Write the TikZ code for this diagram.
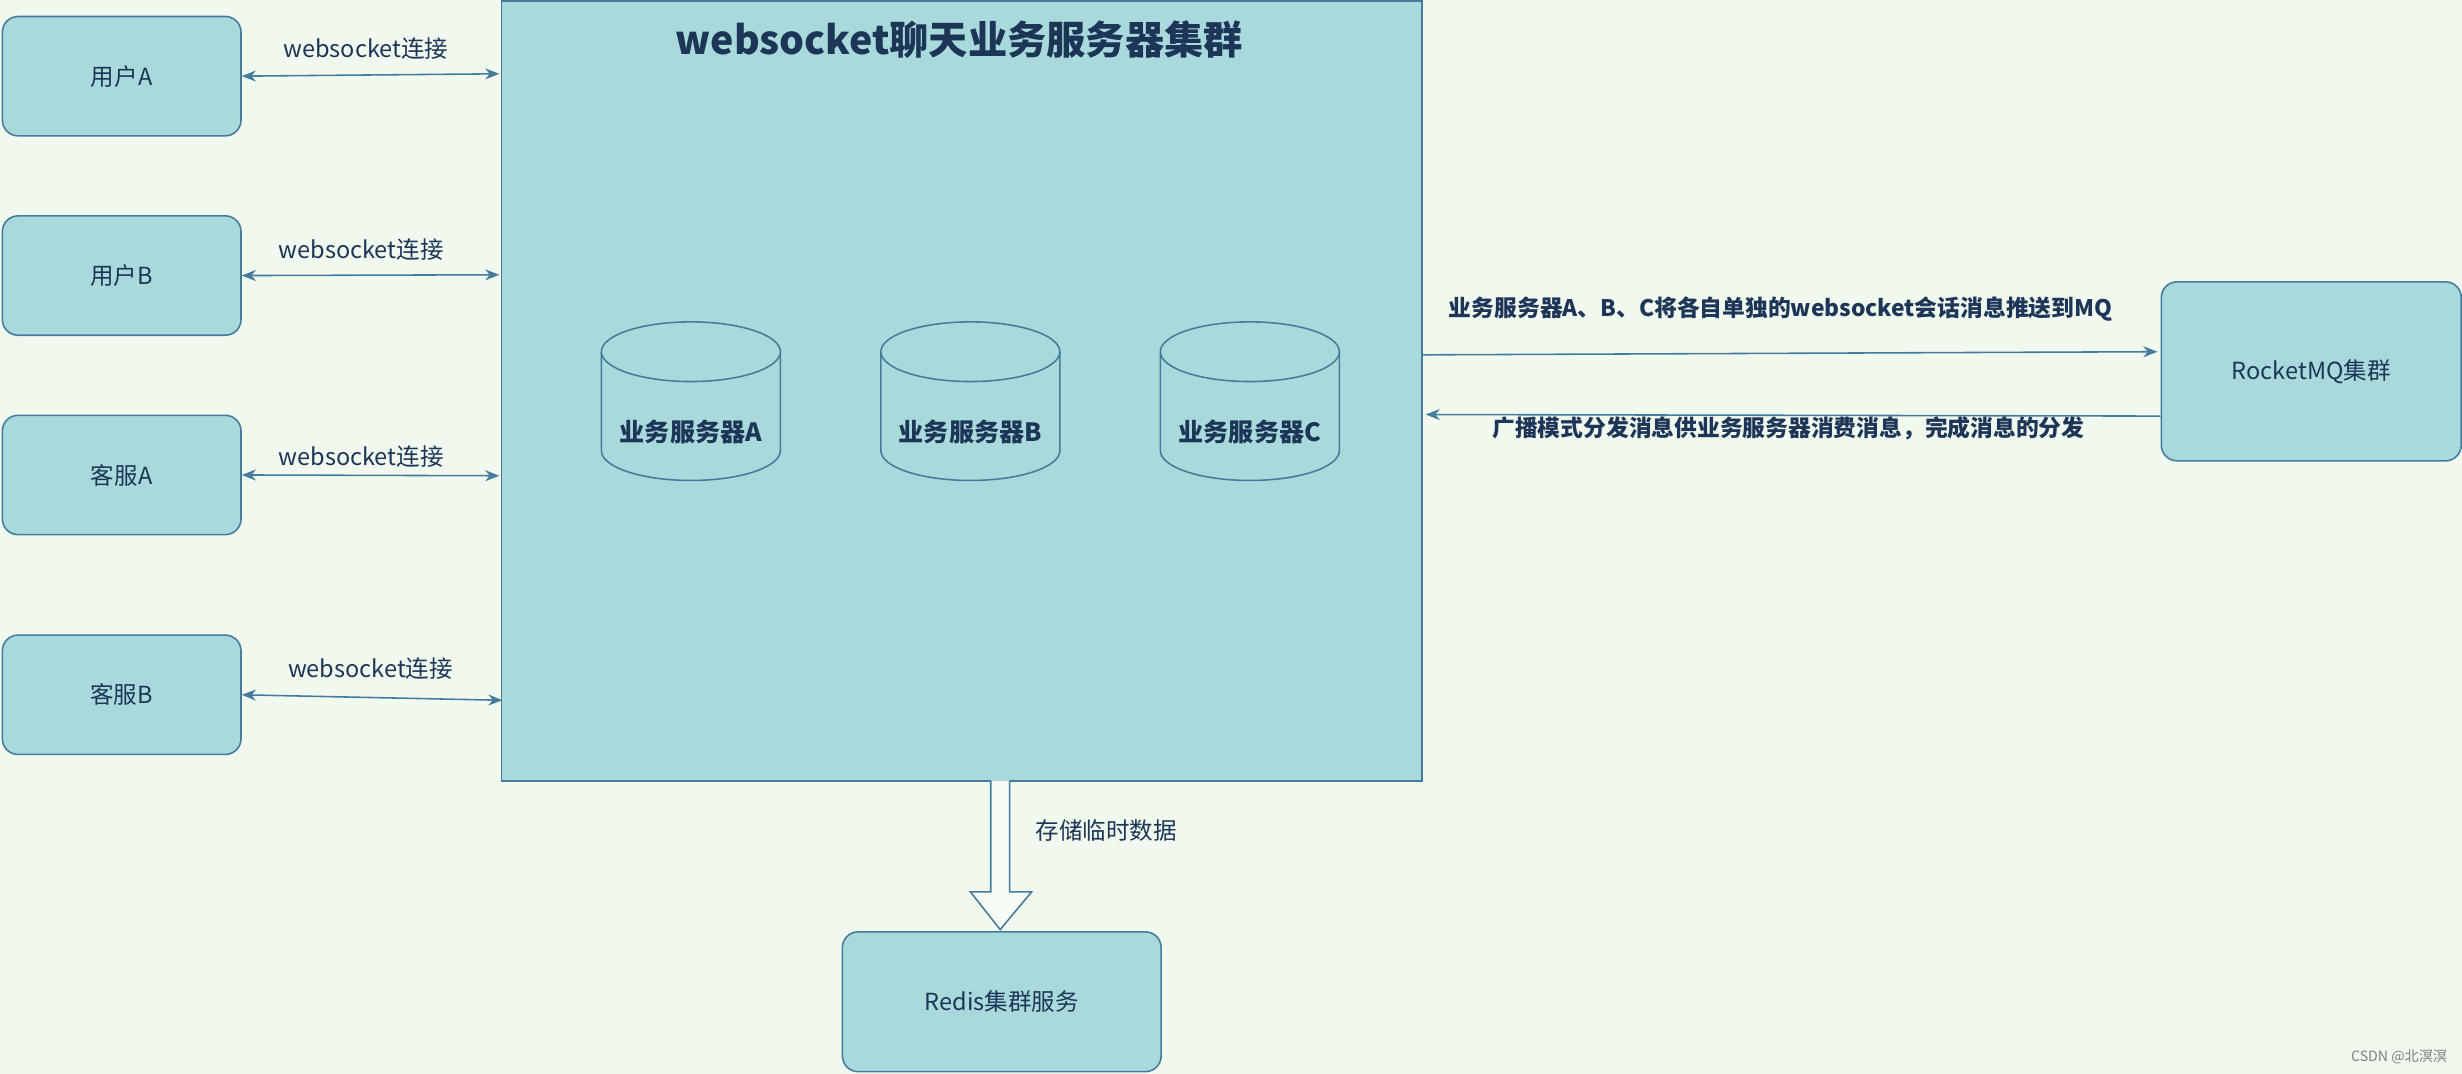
\documentclass[tikz,border=0pt]{standalone}
\usepackage{fontspec}
\setmainfont{Noto Sans CJK SC}
\usetikzlibrary{arrows.meta}
\definecolor{bg}{HTML}{F1F9EE}
\definecolor{fl}{HTML}{A8DADC}
\definecolor{st}{HTML}{457B9D}
\definecolor{tx}{HTML}{1D3557}
\begin{document}
\begin{tikzpicture}[x=1pt,y=-1pt,
  box/.style={draw=st,fill=fl,rounded corners=10pt,line width=1pt,text=tx,font=\fontsize{15}{18}\selectfont},
  lbl/.style={text=tx,font=\fontsize{15}{18}\selectfont},
  blbl/.style={text=tx,font=\bfseries\fontsize{14.5}{17}\selectfont},
  con/.style={draw=st,line width=1pt,{Stealth[length=9pt,width=7pt]}-{Stealth[length=9pt,width=7pt]}},
  one/.style={draw=st,line width=1pt,-{Stealth[length=9pt,width=7pt]}}]
\fill[bg] (0,0) rectangle (1568,684);
\useasboundingbox (0,0) rectangle (1568,684);
\node[draw=st,fill=fl,line width=1pt,minimum width=586pt,minimum height=497pt,anchor=north west,inner sep=0] (main) at (319,0) {};
\node[text=tx,font=\bfseries\fontsize{25}{30}\selectfont] (title) at (611,25) {websocket聊天业务服务器集群};
\foreach \n/\y/\t in {ua/10/用户A,ub/137/用户B,ka/264/客服A,kb/404/客服B}{
  \node[box,minimum width=152pt,minimum height=76pt,anchor=north west] (\n) at (1,\y) {\t};}
\foreach \n/\x/\t in {ca/383/业务服务器A,cb/561/业务服务器B,cc/739/业务服务器C}{
  \draw[draw=st,fill=fl,line width=1pt] (\x,224) -- (\x,287) arc[x radius=57,y radius=19,start angle=180,end angle=0] -- (\x+114,224);
  \draw[draw=st,fill=fl,line width=1pt] (\x+57,224) ellipse[x radius=57,y radius=19];
  \node[blbl,font=\bfseries\fontsize{16}{19}\selectfont] (\n) at (\x+57,275) {\t};}
\coordinate (m1) at (318,47); \coordinate (m2) at (318,175);
\coordinate (m3) at (318,303); \coordinate (m4) at (320,446);
\draw[con] (ua.east) -- (m1); \node[lbl] at (233,31) {websocket连接};
\draw[con] (ub.east) -- (m2); \node[lbl] at (230,159) {websocket连接};
\draw[con] (ka.east) -- (m3); \node[lbl] at (230,291) {websocket连接};
\draw[con] (kb.east) -- (m4); \node[lbl] at (236,426) {websocket连接};
\node[box,minimum width=191pt,minimum height=114pt,anchor=north west] (mq) at (1376,179) {RocketMQ集群};
\coordinate (o1) at (906,226); \coordinate (i1) at (1374,224);
\coordinate (o2) at (1376,265); \coordinate (i2) at (908,264);
\draw[one] (o1) -- (i1);
\node[blbl] at (1134,197) {业务服务器A、B、C将各自单独的websocket会话消息推送到MQ};
\draw[one] (o2) -- (i2);
\node[blbl] at (1139,273) {广播模式分发消息供业务服务器消费消息，完成消息的分发};
\node[box,minimum width=203pt,minimum height=89pt,anchor=north west] (redis) at (536,593) {Redis集群服务};
\draw[draw=st,fill=bg!60!white,line width=1pt] (631,497) -- (631,568) -- (618,568) -- (637,592) -- (657,568) -- (643,568) -- (643,497);
\node[lbl,anchor=west] at (656,529) {存储临时数据};
\node[text=gray,font=\fontsize{9}{10}\selectfont,anchor=east] at (1562,673) {CSDN @北溟溟};
\end{tikzpicture}
\end{document}
